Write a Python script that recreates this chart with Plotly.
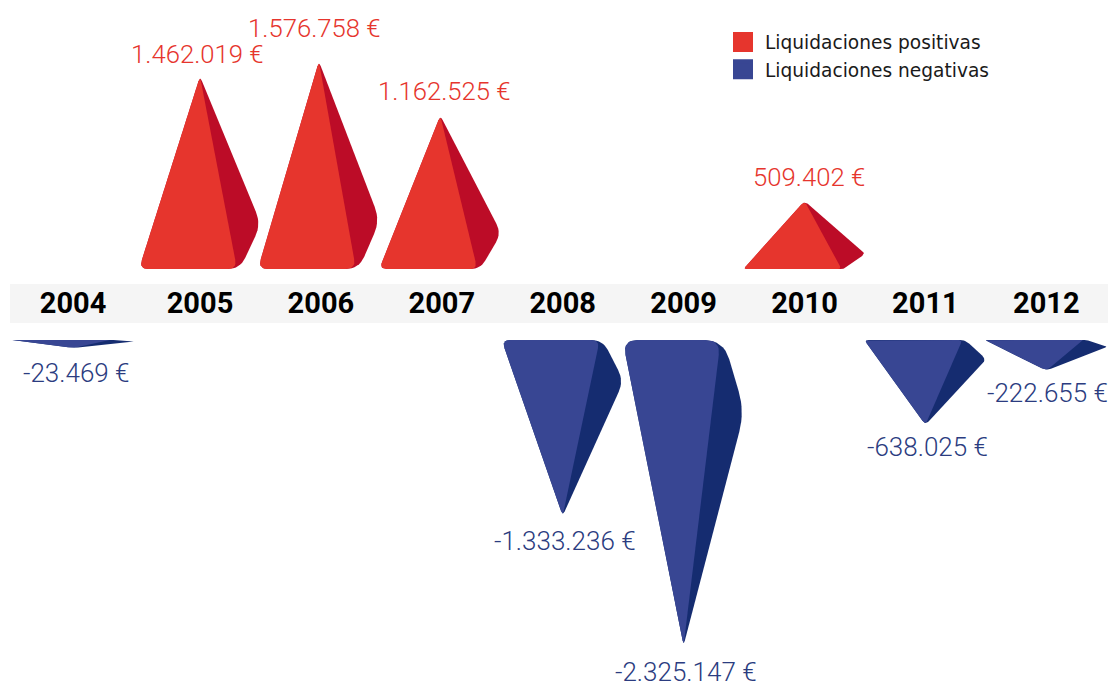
import math
import plotly.graph_objects as go

years = [2004, 2005, 2006, 2007, 2008, 2009, 2010, 2011, 2012]
positive = {2005: 1462019, 2006: 1576758, 2007: 1162525, 2010: 509402}
negative = {2004: -23469, 2008: -1333236, 2009: -2325147, 2011: -638025, 2012: -222655}
series_names = ["Liquidaciones positivas", "Liquidaciones negativas"]

W, H = 1108, 682
PX_PER_YEAR = 120.9
EUR_PER_PX = 7650.0
TOP_BASE_PX, BOTTOM_BASE_PX = 269, 340
X0 = 2005 - 200 / PX_PER_YEAR
X1 = X0 + W / PX_PER_YEAR
RED, RED_DARK = "#E6352D", "#BC0C27"
BLUE, BLUE_DARK = "#384693", "#152C70"
LABEL_BLUE = "#2B3C80"
FONT = "Roboto"
MARK_NUDGE_PX = {2006: -2.0, 2007: -1.5}


def center(y):
    return y - 0.05 if y == 2004 else y


def rounded(pts, radii, steps=8):
    """Round polygon corners; pts are pixel offsets, radii in pixels."""
    out = []
    n = len(pts)
    for i, (p, r) in enumerate(zip(pts, radii)):
        a, b = pts[i - 1], pts[(i + 1) % n]
        la, lb = math.dist(p, a), math.dist(p, b)
        r = min(r, 0.45 * la, 0.45 * lb)
        s = (p[0] + (a[0] - p[0]) * r / la, p[1] + (a[1] - p[1]) * r / la)
        e = (p[0] + (b[0] - p[0]) * r / lb, p[1] + (b[1] - p[1]) * r / lb)
        for k in range(steps + 1):
            t = k / steps
            out.append(((1 - t) ** 2 * s[0] + 2 * t * (1 - t) * p[0] + t ** 2 * e[0],
                        (1 - t) ** 2 * s[1] + 2 * t * (1 - t) * p[1] + t ** 2 * e[1]))
    out.append(out[0])
    return out


def pyramid(year, value, colors, axis):
    h = max(abs(value) / EUR_PER_PX, 6.5)
    sign = 1 if value > 0 else -1
    c = center(year) + MARK_NUDGE_PX.get(year, 0) / PX_PER_YEAR
    half = 61.0
    tip = h + 1.5
    outer = [(0, tip), (half, 0.235 * h), (40, 0), (-half, 0)]
    front = [(0, tip), (37, 0), (-half, 0)]
    shapes = [
        (rounded(outer, [5, 0.07 * h, 0.065 * h, 0.05 * h]), colors[1]),
        (rounded(front, [5, 0.05 * h, 0.05 * h]), colors[0]),
    ]
    traces = []
    for poly, col in shapes:
        traces.append(go.Scatter(
            x=[c + px / PX_PER_YEAR for px, _ in poly],
            y=[sign * py * EUR_PER_PX for _, py in poly],
            xaxis="x", yaxis=axis, mode="lines", fill="toself", fillcolor=col,
            line=dict(width=0, color=col), hoverinfo="skip", showlegend=False,
        ))
    return traces


def fmt(v):
    return f"{v:,}".replace(",", ".") + " €"


fig = go.Figure()
for y, v in positive.items():
    fig.add_traces(pyramid(y, v, (RED, RED_DARK), "y"))
for y, v in negative.items():
    fig.add_traces(pyramid(y, v, (BLUE, BLUE_DARK), "y2"))

for name, col in zip(series_names, (RED, BLUE)):
    fig.add_trace(go.Scatter(
        x=[None], y=[None], xaxis="x", yaxis="y", mode="markers", name=name,
        marker=dict(symbol="square", size=16, color=col, line=dict(width=4, color=col)),
    ))

label_shift = {2004: (3, -30), 2005: (-3, 24), 2006: (-6, 35), 2007: (3, 26), 2008: (2, -27),
               2009: (2, -28), 2010: (4, 25), 2011: (2, -24), 2012: (1, -24)}
annotations = []
for data, axis, col, size in ((positive, "y", RED, 25.7), (negative, "y2", LABEL_BLUE, 26)):
    for y, v in data.items():
        dx, dy = label_shift[y]
        annotations.append(dict(
            x=center(y), y=v, xref="x", yref=axis, text=fmt(v), showarrow=False,
            xshift=dx, yshift=dy, xanchor="center", yanchor="middle",
            font=dict(family=FONT, size=size, color=col, weight=300),
        ))

fig.update_layout(
    width=W, height=H, margin=dict(l=0, r=0, t=0, b=0),
    paper_bgcolor="white", plot_bgcolor="rgba(0,0,0,0)",
    xaxis=dict(
        range=[X0, X1], anchor="y", tickmode="array",
        tickvals=[center(y) for y in years], ticktext=[str(y) for y in years],
        ticks="outside", ticklen=8, tickcolor="rgba(0,0,0,0)", showgrid=False,
        zeroline=False, showline=False,
        tickfont=dict(family=FONT, size=29, color="#000000", weight=700),
    ),
    yaxis=dict(domain=[1 - TOP_BASE_PX / H, 1], range=[0, TOP_BASE_PX * EUR_PER_PX], visible=False),
    yaxis2=dict(domain=[0, 1 - BOTTOM_BASE_PX / H], range=[-(H - BOTTOM_BASE_PX) * EUR_PER_PX, 0], visible=False),
    showlegend=True,
    legend=dict(x=721 / W, y=1 - 23.5 / H, xanchor="left", yanchor="top", bgcolor="rgba(0,0,0,0)",
                itemwidth=34, tracegroupgap=0,
                font=dict(family="DejaVu Sans", size=18.6, color="#1A1A1A")),
    annotations=annotations,
    shapes=[dict(type="rect", xref="paper", yref="paper", x0=10 / W, x1=1, y0=1 - 323 / H, y1=1 - 284 / H,
                 fillcolor="#F5F5F5", line=dict(width=0), layer="below")],
)
fig.write_html("out.html", post_script="document.body.style.margin='0';", config={"displayModeBar": False})
